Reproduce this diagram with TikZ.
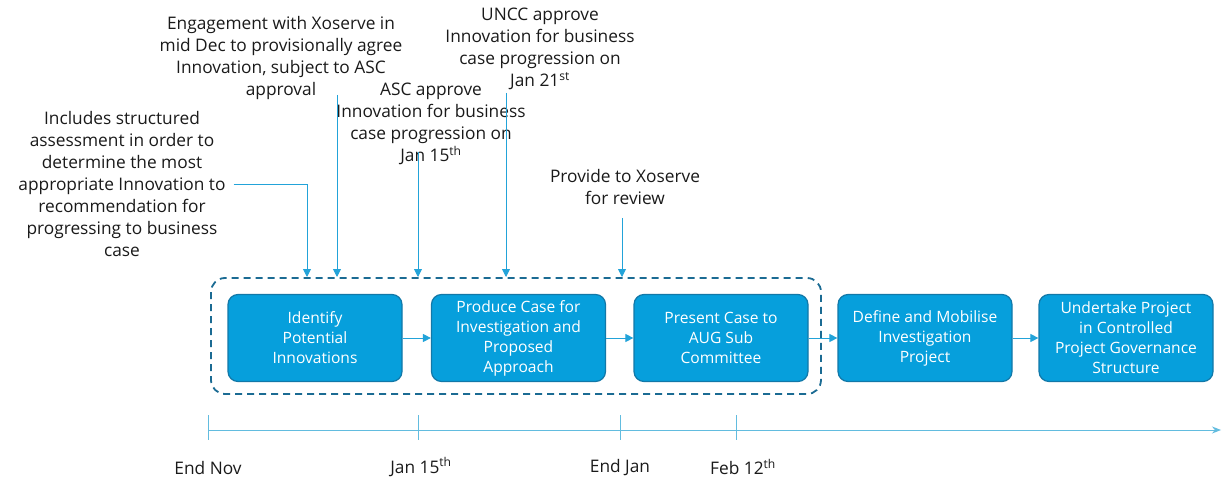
\documentclass[tikz,border=0pt]{standalone}
\usepackage{fontspec}
\setmainfont{Open Sans}
\usetikzlibrary{arrows.meta,calc}
\definecolor{boxfill}{HTML}{069FDC}
\definecolor{boxline}{HTML}{1278A8}
\definecolor{dashc}{HTML}{1B6B93}
\definecolor{arrc}{HTML}{22A3D9}
\definecolor{tlc}{HTML}{62BCDF}
\definecolor{txt}{HTML}{1A1A1A}
\begin{document}
\begin{tikzpicture}[x=1pt,y=-1pt,
  note/.style={align=center,font=\fontsize{17.3}{22}\selectfont,text=txt,inner sep=0pt},
  stepbox/.style={draw=boxline,line width=1.2pt,fill=boxfill,rounded corners=10pt,
    minimum width=174pt,minimum height=87pt,text=white,align=center,
    font=\fontsize{15.6}{20}\selectfont,inner sep=2pt},
  arr/.style={draw=arrc,line width=0.9pt,-{Triangle[length=8pt,width=8pt]}},
  grpbox/.style={draw=dashc,line width=1.8pt,dash pattern=on 7pt off 5pt,rounded corners=14pt},
  tl/.style={draw=tlc,line width=1pt},
  datelbl/.style={font=\fontsize{17.3}{20}\selectfont,text=txt,inner sep=0pt}]
\useasboundingbox (0,0) rectangle (1223,481);

% group
\draw[grpbox] (211,278) rectangle (821,394);
\coordinate (t1) at (307,277);
\coordinate (t2) at (337,277);
\coordinate (t3) at (418,277);
\coordinate (t4) at (506,277);
\coordinate (t5) at (622,277);

% steps
\node[stepbox] (b1) at (315,338) {Identify\\Potential\\Innovations};
\node[stepbox] (b2) at (518.5,338) {Produce Case for\\Investigation and\\Proposed\\Approach};
\node[stepbox] (b3) at (721,338) {Present Case to\\AUG Sub\\Committee};
\node[stepbox] (b4) at (925,338) {Define and Mobilise\\Investigation\\Project};
\node[stepbox] (b5) at (1126,338) {Undertake Project\\in Controlled\\Project Governance\\Structure};

\draw[arr] (b1) -- (b2);
\draw[arr] (b2) -- (b3);
\draw[arr] (b3) -- (b4);
\draw[arr] (b4) -- (b5);

% notes
\node[note] (n1) at (122,184) {Includes structured\\assessment in order to\\determine the most\\appropriate Innovation to\\recommendation for\\progressing to business\\case};
\node[note] (n2) at (281,58) {Engagement with Xoserve in\\mid Dec to provisionally agree\\Innovation, subject to ASC\\approval};
\node[note] (n3) at (431,124) {ASC approve\\Innovation for business\\case progression on\\Jan 15\textsuperscript{th}};
\node[note] (n4) at (540,49) {UNCC approve\\Innovation for business\\case progression on\\Jan 21\textsuperscript{st}};
\node[note] (n5) at (625,187) {Provide to Xoserve\\for review};

\coordinate (s2) at (337,95);
\coordinate (s3) at (418,152);
\coordinate (s4) at (506,93);
\coordinate (s5) at (622,218);

\draw[arr] ([xshift=8pt]n1.east) -| (t1);
\draw[arr] (s2) -- (t2);
\draw[arr] (s3) -- (t3);
\draw[arr] (s4) -- (t4);
\draw[arr] (s5) -- (t5);

% timeline
\coordinate (ta) at (208,430);
\coordinate (tb) at (1221,430);
\draw[tl,-{Stealth[length=9pt,width=7pt]}] (ta) -- (tb);
\foreach \x in {208,418,620,736}{
  \draw[tl] (\x,415) -- (\x,440);
}
\node[datelbl] (d1) at (208,468) {End Nov};
\node[datelbl] (d2) at (421,467) {Jan 15\textsuperscript{th}};
\node[datelbl] (d3) at (620,468) {End Jan};
\node[datelbl] (d4) at (743,467) {Feb 12\textsuperscript{th}};
\end{tikzpicture}
\end{document}
